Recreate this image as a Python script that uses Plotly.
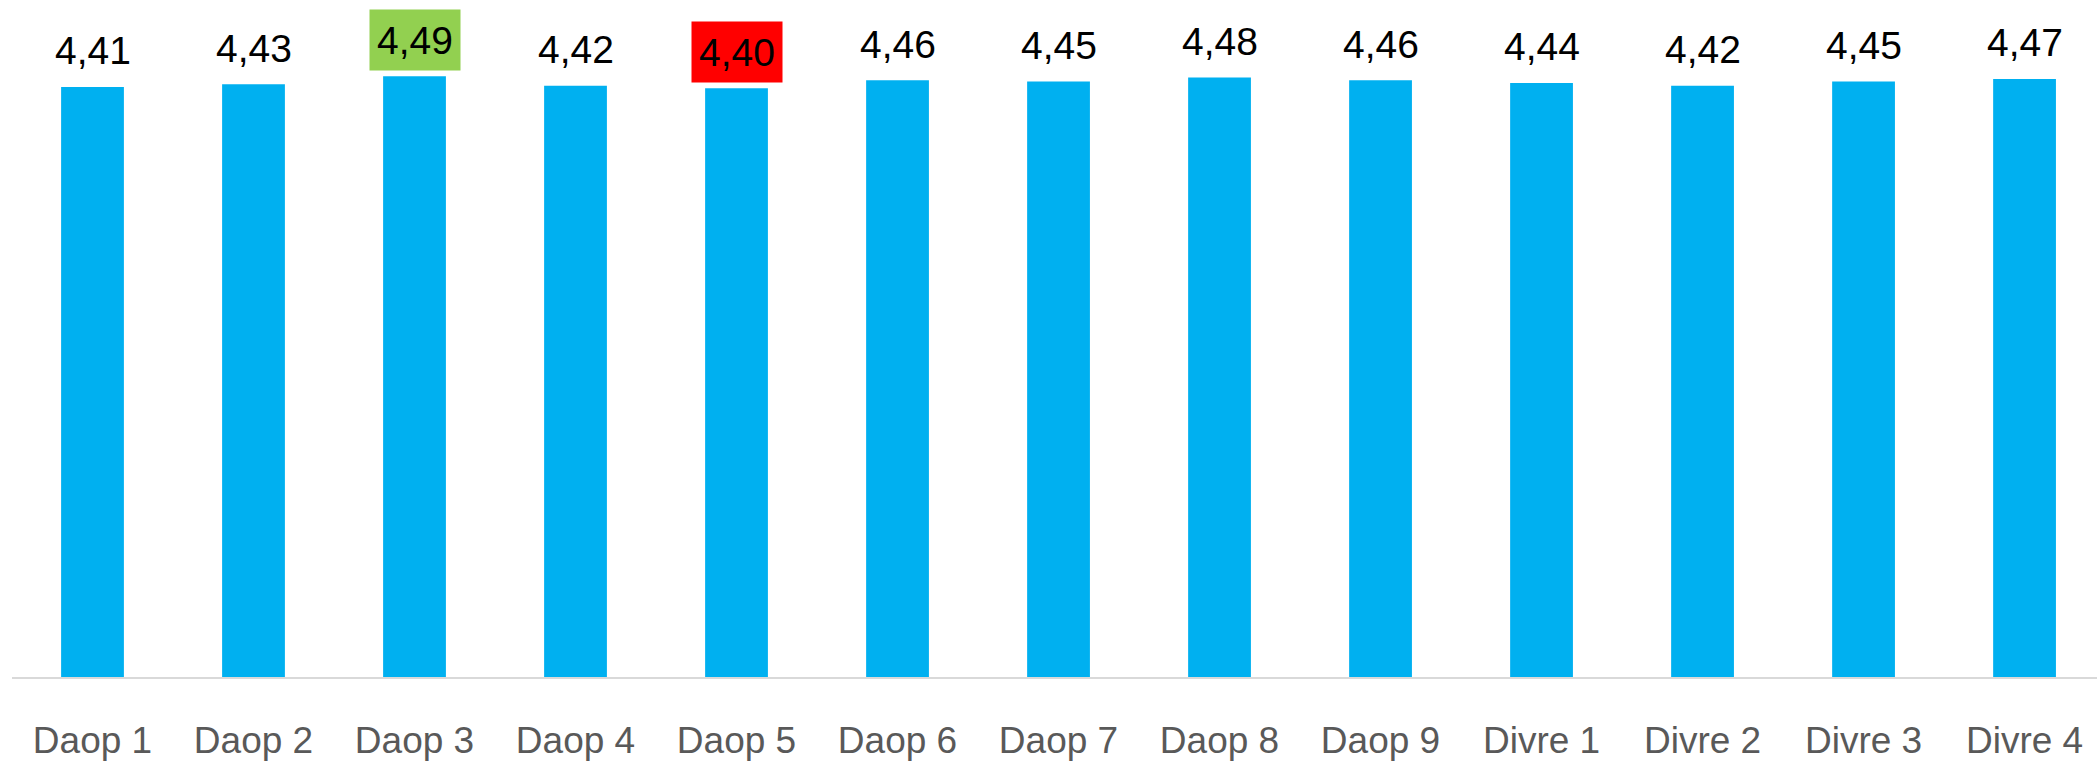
import plotly.graph_objects as go

categories = ["Daop 1", "Daop 2", "Daop 3", "Daop 4", "Daop 5", "Daop 6", "Daop 7",
              "Daop 8", "Daop 9", "Divre 1", "Divre 2", "Divre 3", "Divre 4"]
scores = [4.41, 4.43, 4.49, 4.42, 4.40, 4.46, 4.45, 4.48, 4.46, 4.44, 4.42, 4.45, 4.47]

BAR_COLOR = "#00B0F0"
HIGH_COLOR = "#92D050"
LOW_COLOR = "#FF0000"

fig = go.Figure(
    go.Bar(
        x=categories,
        y=scores,
        marker=dict(color=BAR_COLOR, line=dict(width=0)),
        hoverinfo="x+y",
    )
)

best = max(scores)
worst = min(scores)

# Value labels above each bar; the top and bottom scores get a coloured box
for cat, val in zip(categories, scores):
    label = f"{val:.2f}".replace(".", ",")
    bg = None
    if val == best:
        bg = HIGH_COLOR
    elif val == worst:
        bg = LOW_COLOR
    ann = dict(
        x=cat,
        y=val,
        text=label,
        showarrow=False,
        xanchor="center",
        yanchor="middle",
        yshift=36,
        font=dict(family="Liberation Sans, Arial, sans-serif", size=39, color="#000000"),
    )
    if bg:
        ann.update(bgcolor=bg, width=80, height=50, borderpad=5)
    fig.add_annotation(**ann)

fig.update_layout(
    width=2097,
    height=761,
    margin=dict(l=12, r=0, t=0, b=75),
    paper_bgcolor="white",
    plot_bgcolor="white",
    bargap=0.61,
    showlegend=False,
    xaxis=dict(
        type="category",
        range=[-0.5, 12.45],
        showline=True,
        linecolor="#D9D9D9",
        linewidth=2,
        showgrid=False,
        ticks="",
        ticklabelstandoff=30,
        tickfont=dict(family="Liberation Sans, Arial, sans-serif", size=37, color="#595959"),
    ),
    yaxis=dict(
        range=[0, 5.06],
        visible=False,
        showgrid=False,
        zeroline=False,
    ),
)

fig.write_html("out.html")
